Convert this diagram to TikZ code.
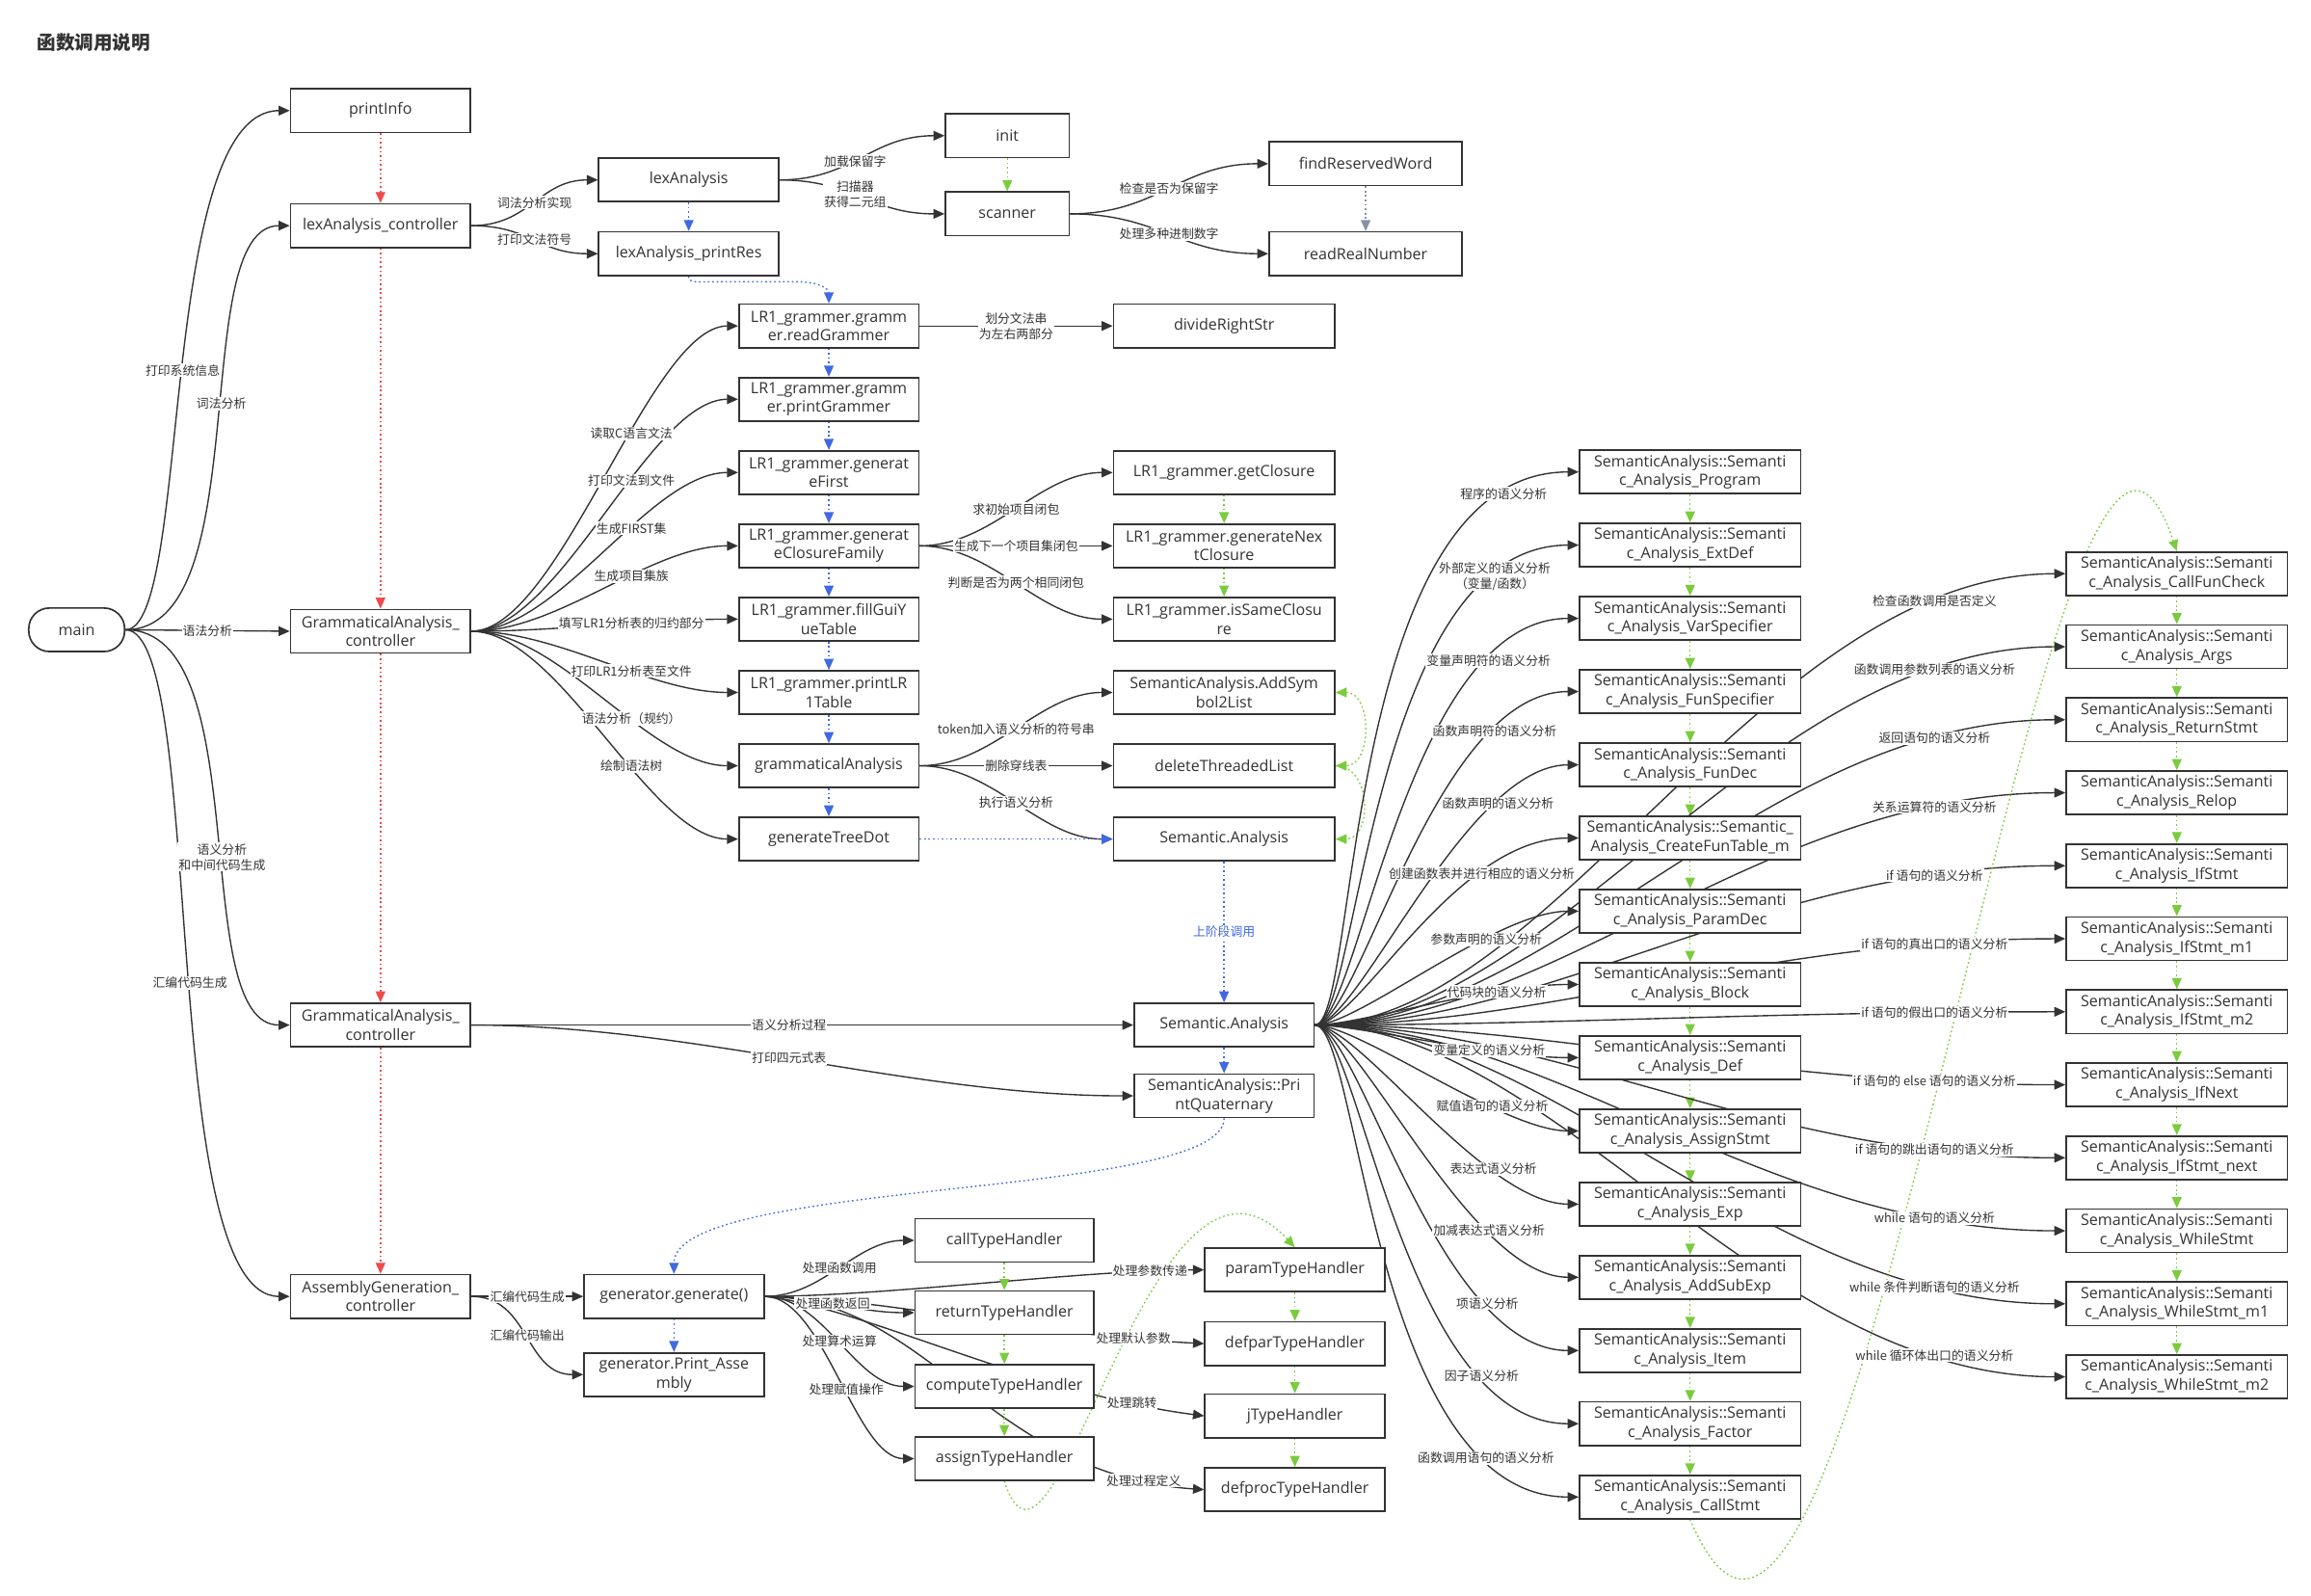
\documentclass[tikz,border=0pt]{standalone}
\usepackage{fontspec}
\setmainfont{Open Sans}
\newfontfamily\cjk{Noto Sans CJK SC}
\usetikzlibrary{arrows.meta}
\pgfdeclarelayer{bg}
\pgfdeclarelayer{edges}
\pgfdeclarelayer{labels}
\pgfsetlayers{bg,edges,labels,main}
\definecolor{ln}{HTML}{333333}
\definecolor{redd}{HTML}{EE4B4B}
\definecolor{blued}{HTML}{4169E1}
\definecolor{greend}{HTML}{7ACC3E}
\definecolor{grayd}{HTML}{8592A3}
\tikzset{
  arrowtip/.style={-{Triangle[length=7.5pt,width=6.5pt]}},
  con/.style={draw=ln, line width=0.9pt, arrowtip},
  dotline/.style={line width=0.9pt, dash pattern=on 1.1pt off 1.9pt, arrowtip},
  rdot/.style={draw=redd, dotline},
  bdot/.style={draw=blued, dotline},
  gdot/.style={draw=greend, dotline},
  gdotb/.style={draw=greend, line width=0.9pt, dash pattern=on 1.1pt off 1.9pt, {Triangle[length=7.5pt,width=6.5pt]}-{Triangle[length=7.5pt,width=6.5pt]}},
  ydot/.style={draw=grayd, dotline},
  lbl/.style={fill=white, inner sep=0.7pt, font=\cjk\fontsize{8.4}{10.5}\selectfont, text=ln, align=center},
  nbox/.style={draw=ln, line width=1.1pt, fill=white, minimum width=122pt, minimum height=29.5pt, inner sep=1pt, align=center, text=ln, font=\fontsize{10.5}{12.8}\selectfont},
  wbox/.style={nbox, minimum width=150pt},
}
\newcommand\alledges{%
% main fan
\path[con] (main.east) .. controls +(45,0) and +(-90,0) .. (printInfo.west) node[lbl,pos=0.5]{打印系统信息};
\path[con] (main.east) .. controls +(90,0) and +(-70,0) .. (lexCtl.west) node[lbl,pos=0.54]{词法分析};
\path[con] (main.east) -- (ga1.west) node[lbl,pos=0.5]{语法分析};
\path[con] (main.east) .. controls +(90,0) and +(-70,0) .. (ga2.west) node[lbl,pos=0.55]{语义分析\\和中间代码生成};
\path[con] (main.east) .. controls +(55,0) and +(-90,0) .. (agc.west) node[lbl,pos=0.52]{汇编代码生成};
% red chain
\path[rdot] (printInfo.south) -- (lexCtl.north);
\path[rdot] (lexCtl.south) -- (ga1.north);
\path[rdot] (ga1.south) -- (ga2.north);
\path[rdot] (ga2.south) -- (agc.north);
% lexical
\path[con] (lexCtl.east) .. controls +(40,0) and +(-40,0) .. (lexA.west) node[lbl,pos=0.5]{词法分析实现};
\path[con] (lexCtl.east) .. controls +(40,0) and +(-40,0) .. (lexPR.west) node[lbl,pos=0.5]{打印文法符号};
\path[bdot] (lexA.south) -- (lexPR.north);
\path[con] (lexA.east) .. controls +(50,0) and +(-50,0) .. (init.west) node[lbl,pos=0.45]{加载保留字};
\path[con] (lexA.east) .. controls +(50,0) and +(-50,0) .. (scanner.west) node[lbl,pos=0.45]{扫描器\\获得二元组};
\path[gdot] (init.south) -- (scanner.north);
\path[con] (scanner.east) .. controls +(60,0) and +(-60,0) .. (frw.west) node[lbl,pos=0.5]{检查是否为保留字};
\path[con] (scanner.east) .. controls +(60,0) and +(-60,0) .. (rrn.west) node[lbl,pos=0.5]{处理多种进制数字};
\path[ydot] (frw.south) -- (rrn.north);
\path[bdot] (lexPR.south) .. controls +(0,5) and (472,191) .. (490,191) -- (540,191) .. controls (556,191) and (562,196) .. (rg.north);
% grammar
\path[con] (rg.east) -- (drs.west) node[lbl,pos=0.5]{划分文法串\\为左右两部分};
\path[bdot] (rg.south) -- (pg.north);
\path[bdot] (pg.south) -- (gf.north);
\path[bdot] (gf.south) -- (gcf.north);
\path[bdot] (gcf.south) -- (fgy.north);
\path[bdot] (fgy.south) -- (plr.north);
\path[bdot] (plr.south) -- (gram.north);
\path[bdot] (gram.south) -- (gtd.north);
\path[con] (ga1.east) .. controls +(60,0) and +(-60,0) .. (rg.west) node[lbl,pos=0.6]{读取C语言文法};
\path[con] (ga1.east) .. controls +(60,0) and +(-60,0) .. (pg.west) node[lbl,pos=0.6]{打印文法到文件};
\path[con] (ga1.east) .. controls +(60,0) and +(-60,0) .. (gf.west) node[lbl,pos=0.6]{生成FIRST集};
\path[con] (ga1.east) .. controls +(60,0) and +(-60,0) .. (gcf.west) node[lbl,pos=0.6]{生成项目集族};
\path[con] (ga1.east) .. controls +(60,0) and +(-60,0) .. (fgy.west) node[lbl,pos=0.6]{填写LR1分析表的归约部分};
\path[con] (ga1.east) .. controls +(60,0) and +(-60,0) .. (plr.west) node[lbl,pos=0.6]{打印LR1分析表至文件};
\path[con] (ga1.east) .. controls +(60,0) and +(-60,0) .. (gram.west) node[lbl,pos=0.6]{语法分析（规约）};
\path[con] (ga1.east) .. controls +(60,0) and +(-60,0) .. (gtd.west) node[lbl,pos=0.6]{绘制语法树};
\path[con] (gcf.east) .. controls +(50,0) and +(-50,0) .. (gc.west) node[lbl,pos=0.5]{求初始项目闭包};
\path[con] (gcf.east) -- (gnc.west) node[lbl,pos=0.5]{生成下一个项目集闭包};
\path[con] (gcf.east) .. controls +(50,0) and +(-50,0) .. (isc.west) node[lbl,pos=0.5]{判断是否为两个相同闭包};
\path[gdot] (gc.south) -- (gnc.north);
\path[gdot] (gnc.south) -- (isc.north);
\path[con] (gram.east) .. controls +(50,0) and +(-50,0) .. (asl.west) node[lbl,pos=0.5]{token加入语义分析的符号串};
\path[con] (gram.east) -- (dtl.west) node[lbl,pos=0.5]{删除穿线表};
\path[con] (gram.east) .. controls +(50,0) and +(-50,0) .. (sa1.west) node[lbl,pos=0.5]{执行语义分析};
\path[gdotb] (asl.east) .. controls +(25,0) and +(25,0) .. (dtl.east);
\path[gdot] (dtl.east) .. controls +(25,0) and +(25,0) .. (sa1.east);
\path[bdot] (gtd.east) -- (sa1.west);
\path[bdot] (sa1.south) -- (sa2.north) node[lbl,pos=0.5,text=blued]{上阶段调用};
\path[bdot] (sa2.south) -- (pq.north);
\path[bdot] (pq.south) .. controls +(0,55) and +(0,-65) .. (gen.north);
\path[con] (ga2.east) -- (sa2.west) node[lbl,pos=0.48]{语义分析过程};
\path[con] (ga2.east) .. controls +(150,0) and +(-150,0) .. (pq.west) node[lbl,pos=0.48]{打印四元式表};
% assembly
\path[con] (agc.east) -- (gen.west) node[lbl,pos=0.5]{汇编代码生成};
\path[con] (agc.east) .. controls +(40,0) and +(-40,0) .. (pa.west) node[lbl,pos=0.5]{汇编代码输出};
\path[bdot] (gen.south) -- (pa.north);
\path[con] (gen.east) .. controls +(40,0) and +(-40,0) .. (callH.west) node[lbl,pos=0.5]{处理函数调用};
\path[con] (gen.east) .. controls +(40,0) and +(-40,0) .. (retH.west) node[lbl,pos=0.45]{处理函数返回};
\path[con] (gen.east) .. controls +(40,0) and +(-40,0) .. (compH.west) node[lbl,pos=0.5]{处理算术运算};
\path[con] (gen.east) .. controls +(40,0) and +(-40,0) .. (assH.west) node[lbl,pos=0.55]{处理赋值操作};
\path[con] (gen.east) .. controls +(80,0) and +(-80,0) .. (parH.west) node[lbl,pos=0.86]{处理参数传递};
\path[con] (gen.east) .. controls (600,880) and (700,905) .. (defpH.west) node[lbl,pos=0.86]{处理默认参数};
\path[con] (gen.east) .. controls (580,885) and (700,945) .. (jH.west) node[lbl,pos=0.86]{处理跳转};
\path[con] (gen.east) .. controls (630,880) and (670,1000) .. (defprH.west) node[lbl,pos=0.9]{处理过程定义};
\path[gdot] (callH.south) -- (retH.north);
\path[gdot] (retH.south) -- (compH.north);
\path[gdot] (compH.south) -- (assH.north);
\path[gdot] (parH.south) -- (defpH.north);
\path[gdot] (defpH.south) -- (jH.north);
\path[gdot] (jH.south) -- (defprH.north);
\path[gdot] (assH.south) .. controls (715,1110) and (780,740) .. (parH.north);
% semantic middle column
\path[con] (sa2.east) .. controls +(30,0) and +(-161,0) .. (m1.west) node[lbl,pos=0.88]{程序的语义分析};
\path[con] (sa2.east) .. controls +(30,0) and +(-142,0) .. (m2.west) node[lbl,pos=0.845]{外部定义的语义分析\\（变量/函数）};
\path[con] (sa2.east) .. controls +(30,0) and +(-118,0) .. (m3.west) node[lbl,pos=0.80]{变量声明符的语义分析};
\path[con] (sa2.east) .. controls +(30,0) and +(-98,0) .. (m4.west) node[lbl,pos=0.785]{函数声明符的语义分析};
\path[con] (sa2.east) .. controls +(30,0) and +(-77,0) .. (m5.west) node[lbl,pos=0.757]{函数声明的语义分析};
\path[con] (sa2.east) .. controls +(30,0) and +(-85,0) .. (m6.west) node[lbl,pos=0.722]{创建函数表并进行相应的语义分析};
\path[con] (sa2.east) .. controls +(30,0) and +(-56,0) .. (m7.west) node[lbl,pos=0.676]{参数声明的语义分析};
\path[con] (sa2.east) .. controls +(30,0) and +(-63,0) .. (m8.west) node[lbl,pos=0.725]{代码块的语义分析};
\path[con] (sa2.east) .. controls +(30,0) and +(-58,0) .. (m9.west) node[lbl,pos=0.69]{变量定义的语义分析};
\path[con] (sa2.east) .. controls +(30,0) and +(-51,0) .. (m10.west) node[lbl,pos=0.685]{赋值语句的语义分析};
\path[con] (sa2.east) .. controls +(30,0) and +(-64,0) .. (m11.west) node[lbl,pos=0.716]{表达式语义分析};
\path[con] (sa2.east) .. controls +(30,0) and +(-74,0) .. (m12.west) node[lbl,pos=0.723]{加减表达式语义分析};
\path[con] (sa2.east) .. controls +(30,0) and +(-96,0) .. (m13.west) node[lbl,pos=0.76]{项语义分析};
\path[con] (sa2.east) .. controls +(30,0) and +(-119,0) .. (m14.west) node[lbl,pos=0.783]{因子语义分析};
\path[con] (sa2.east) .. controls +(30,0) and +(-140,0) .. (m15.west) node[lbl,pos=0.823]{函数调用语句的语义分析};
\foreach \i [remember=\i as \last (initially 1)] in {2,...,15}
  {\path[gdot] (m\last.south) -- (m\i.north);}
% semantic right column
\foreach \i/\t in {1/检查函数调用是否定义,2/函数调用参数列表的语义分析,3/返回语句的语义分析,4/关系运算符的语义分析,5/if 语句的语义分析,6/if 语句的真出口的语义分析,7/if 语句的假出口的语义分析,8/if 语句的 else 语句的语义分析,9/if 语句的跳出语句的语义分析,10/while 语句的语义分析,11/while 条件判断语句的语义分析,12/while 循环体出口的语义分析}
  {\path[con] (sa2.east) .. controls +(160,0) and +(-206,0) .. (r\i.west) node[lbl,pos=0.85]{\t};}
\foreach \i [remember=\i as \last (initially 1)] in {2,...,12}
  {\path[gdot] (r\last.south) -- (r\i.north);}
\path[gdot] (m15.south) .. controls (1260,1300) and (1390,120) .. (r1.north);
}
\begin{document}
\begin{tikzpicture}[x=1pt,y=-1pt]
\begin{pgfonlayer}{bg}
\fill[white] (0,0) rectangle (1567,1082);
\end{pgfonlayer}
\useasboundingbox (0,0) rectangle (1567,1082);
\node[anchor=west, inner sep=0pt, font=\cjk\bfseries\fontsize{12.8}{14}\selectfont, text=ln] (title) at (25,29) {函数调用说明};
% left
\node[nbox, minimum width=65pt, rounded corners=14pt] (main) at (52,427) {main};
\node[nbox] (printInfo) at (258,75) {printInfo};
\node[nbox] (lexCtl) at (258,153) {lexAnalysis\_controller};
\node[nbox] (ga1) at (258,428) {GrammaticalAnalysis\_\\controller};
\node[nbox] (ga2) at (258,695) {GrammaticalAnalysis\_\\controller};
\node[nbox] (agc) at (258,879) {AssemblyGeneration\_\\controller};
% lexical
\node[nbox] (lexA) at (467,122) {lexAnalysis};
\node[nbox] (lexPR) at (467,172) {lexAnalysis\_printRes};
\node[nbox, minimum width=84pt] (init) at (683,92) {init};
\node[nbox, minimum width=84pt] (scanner) at (683,145) {scanner};
\node[nbox, minimum width=131pt] (frw) at (926,111) {findReservedWord};
\node[nbox, minimum width=131pt] (rrn) at (926,172) {readRealNumber};
% LR1 column
\node[nbox] (rg) at (562,221) {LR1\_grammer.gramm\\er.readGrammer};
\node[nbox] (pg) at (562,270.7) {LR1\_grammer.gramm\\er.printGrammer};
\node[nbox] (gf) at (562,320.4) {LR1\_grammer.generat\\eFirst};
\node[nbox] (gcf) at (562,370.1) {LR1\_grammer.generat\\eClosureFamily};
\node[nbox] (fgy) at (562,419.8) {LR1\_grammer.fillGuiY\\ueTable};
\node[nbox] (plr) at (562,469.5) {LR1\_grammer.printLR\\1Table};
\node[nbox] (gram) at (562,519.2) {grammaticalAnalysis};
\node[nbox] (gtd) at (562,568.9) {generateTreeDot};
\node[wbox] (drs) at (830,221) {divideRightStr};
\node[wbox] (gc) at (830,320.4) {LR1\_grammer.getClosure};
\node[wbox] (gnc) at (830,370.1) {LR1\_grammer.generateNex\\tClosure};
\node[wbox] (isc) at (830,419.8) {LR1\_grammer.isSameClosu\\re};
\node[wbox] (asl) at (830,469.5) {SemanticAnalysis.AddSym\\bol2List};
\node[wbox] (dtl) at (830,519.2) {deleteThreadedList};
\node[wbox] (sa1) at (830,568.9) {Semantic.Analysis};
\node[nbox] (sa2) at (830,695) {Semantic.Analysis};
\node[nbox] (pq) at (830,743) {SemanticAnalysis::Pri\\ntQuaternary};
% assembly
\node[nbox] (gen) at (457,879) {generator.generate()};
\node[nbox] (pa) at (457,932) {generator.Print\_Asse\\mbly};
\node[nbox, minimum width=121pt] (callH) at (681,841) {callTypeHandler};
\node[nbox, minimum width=121pt] (retH) at (681,890) {returnTypeHandler};
\node[nbox, minimum width=121pt] (compH) at (681,940) {computeTypeHandler};
\node[nbox, minimum width=121pt] (assH) at (681,989) {assignTypeHandler};
\node[nbox] (parH) at (878,861) {paramTypeHandler};
\node[nbox] (defpH) at (878,911) {defparTypeHandler};
\node[nbox] (jH) at (878,960) {jTypeHandler};
\node[nbox] (defprH) at (878,1010) {defprocTypeHandler};
% semantic middle column
\node[wbox] (m1) at (1146,320) {SemanticAnalysis::Semanti\\c\_Analysis\_Program};
\node[wbox] (m2) at (1146,369.6) {SemanticAnalysis::Semanti\\c\_Analysis\_ExtDef};
\node[wbox] (m3) at (1146,419.3) {SemanticAnalysis::Semanti\\c\_Analysis\_VarSpecifier};
\node[wbox] (m4) at (1146,468.9) {SemanticAnalysis::Semanti\\c\_Analysis\_FunSpecifier};
\node[wbox] (m5) at (1146,518.6) {SemanticAnalysis::Semanti\\c\_Analysis\_FunDec};
\node[wbox] (m6) at (1146,568.2) {SemanticAnalysis::Semantic\_\\Analysis\_CreateFunTable\_m};
\node[wbox] (m7) at (1146,617.8) {SemanticAnalysis::Semanti\\c\_Analysis\_ParamDec};
\node[wbox] (m8) at (1146,667.5) {SemanticAnalysis::Semanti\\c\_Analysis\_Block};
\node[wbox] (m9) at (1146,717.1) {SemanticAnalysis::Semanti\\c\_Analysis\_Def};
\node[wbox] (m10) at (1146,766.8) {SemanticAnalysis::Semanti\\c\_Analysis\_AssignStmt};
\node[wbox] (m11) at (1146,816.4) {SemanticAnalysis::Semanti\\c\_Analysis\_Exp};
\node[wbox] (m12) at (1146,866) {SemanticAnalysis::Semanti\\c\_Analysis\_AddSubExp};
\node[wbox] (m13) at (1146,915.7) {SemanticAnalysis::Semanti\\c\_Analysis\_Item};
\node[wbox] (m14) at (1146,965.3) {SemanticAnalysis::Semanti\\c\_Analysis\_Factor};
\node[wbox] (m15) at (1146,1015) {SemanticAnalysis::Semanti\\c\_Analysis\_CallStmt};
% semantic right column
\node[wbox] (r1) at (1476,389) {SemanticAnalysis::Semanti\\c\_Analysis\_CallFunCheck};
\node[wbox] (r2) at (1476,438.5) {SemanticAnalysis::Semanti\\c\_Analysis\_Args};
\node[wbox] (r3) at (1476,488) {SemanticAnalysis::Semanti\\c\_Analysis\_ReturnStmt};
\node[wbox] (r4) at (1476,537.5) {SemanticAnalysis::Semanti\\c\_Analysis\_Relop};
\node[wbox] (r5) at (1476,587) {SemanticAnalysis::Semanti\\c\_Analysis\_IfStmt};
\node[wbox] (r6) at (1476,636.5) {SemanticAnalysis::Semanti\\c\_Analysis\_IfStmt\_m1};
\node[wbox] (r7) at (1476,686) {SemanticAnalysis::Semanti\\c\_Analysis\_IfStmt\_m2};
\node[wbox] (r8) at (1476,735.5) {SemanticAnalysis::Semanti\\c\_Analysis\_IfNext};
\node[wbox] (r9) at (1476,785) {SemanticAnalysis::Semanti\\c\_Analysis\_IfStmt\_next};
\node[wbox] (r10) at (1476,834.5) {SemanticAnalysis::Semanti\\c\_Analysis\_WhileStmt};
\node[wbox] (r11) at (1476,884) {SemanticAnalysis::Semanti\\c\_Analysis\_WhileStmt\_m1};
\node[wbox] (r12) at (1476,933.5) {SemanticAnalysis::Semanti\\c\_Analysis\_WhileStmt\_m2};
% edges, then labels on top of all edges
\begin{pgfonlayer}{edges}
\alledges
\end{pgfonlayer}
\begin{pgfonlayer}{labels}
\tikzset{con/.style={}, rdot/.style={}, bdot/.style={}, gdot/.style={}, gdotb/.style={}, ydot/.style={}}
\alledges
\end{pgfonlayer}
\end{tikzpicture}
\end{document}
